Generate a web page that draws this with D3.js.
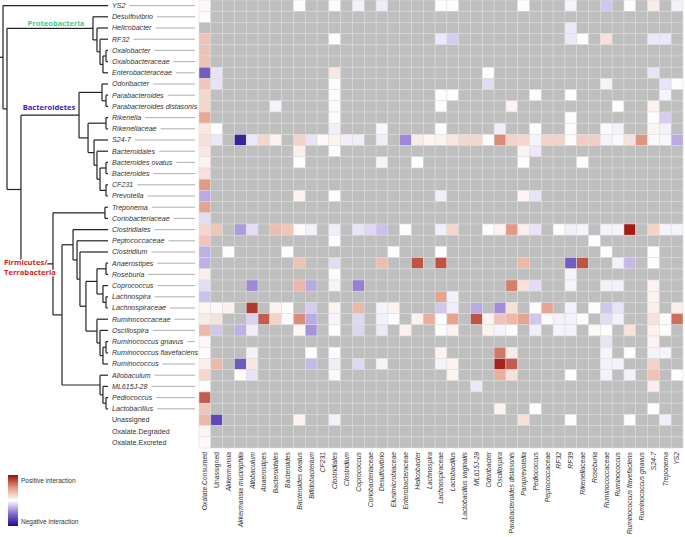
<!DOCTYPE html>
<html><head><meta charset="utf-8">
<script src="https://cdn.jsdelivr.net/npm/d3@7/dist/d3.min.js"></script>
<style>body{margin:0;background:#fff}</style>
</head><body><svg id="c" width="685" height="537"></svg>
<script>
const rows = ["YS2","Desulfovibrio","Helicobacter","RF32","Oxalobacter","Oxalobacteraceae","Enterobacteraceae","Odoribacter","Parabacteroides","Parabacteroides distasonis","Rikenella","Rikenellaceae","S24-7","Bacteroidales","Bacteroides ovatus","Bacteroides","CF231","Prevotella","Treponema","Coriobacteriaceae","Clostridiales","Peptococcaceae","Clostridium","Anaerostipes","Roseburia","Coprococcus","Lachnospira","Lachnospiraceae","Ruminococcaceae","Oscillospira","Ruminococcus gnavus","Ruminococcus flavefaciens","Ruminococcus","Allobaculum","ML615J-28","Pediococcus","Lactobacillus","Unassigned","Oxalate.Degraded","Oxalate.Excreted"];
const cols = ["Oxalate.Consumed","Unassigned","Akkermansia","Akkermansia muciniphila","Allobaculum","Anaerostipes","Bacteroidales","Bacteroides","Bacteroides ovatus","Bifidobacterium","CF231","Clostridiales","Clostridium","Coprococcus","Coriobacteriaceae","Desulfovibrio","Elusimicrobiaceae","Enterobacteraceae","Helicobacter","Lachnospira","Lachnospiraceae","Lactobacillus","Lactobacillus vaginalis","ML615J-28","Odoribacter","Oscillospira","Parabacteroides distasonis","Paraprevotella","Pediococcus","Peptococcaceae","RF32","RF39","Rikenellaceae","Roseburia","Ruminococcaceae","Ruminococcus","Ruminococcus flavefaciens","Ruminococcus gnavus","S24-7","Treponema","YS2"];
const plainRows = ["Unassigned","Oxalate.Degraded","Oxalate.Excreted"];
const plainCols = ["Oxalate.Consumed","Unassigned"];

// per row: [columnIndex, interaction value]; missing = not tested (grey)
const values = [
 [[0,.03],[8,.01],[11,.01],[13,-.05],[15,-.07],[20,.01],[21,.01],[27,.01],[31,-.04],[34,-.2],[36,.01],[38,.1],[40,-.05]],
 [[0,.02]],
 [[31,-.08]],
 [[0,.3],[11,.01],[20,-.08],[21,-.18],[31,-.08],[32,.01],[34,.15],[38,-.08],[39,-.08]],
 [[0,.3]],
 [[0,.3]],
 [[0,-.6],[1,-.1],[11,.12],[24,.01],[38,-.1]],
 [[0,.28],[1,-.1],[11,.02],[24,-.12],[34,-.04],[39,-.1],[40,.01]],
 [[0,.2],[11,.02],[20,.01],[21,.01],[28,.01],[31,.01],[39,-.04]],
 [[0,.2],[6,-.04],[11,.02],[20,.01],[26,.06],[35,.01],[38,.06]],
 [[0,.42],[11,.02],[31,.02],[38,.01],[39,-.18]],
 [[0,.12],[1,0],[11,-.06],[15,-.03],[20,.01],[25,-.06],[28,.01],[31,.01],[34,-.02],[35,-.05],[38,.05],[39,-.05]],
 [[0,.15],[1,-.08],[3,-.88],[4,-.08],[5,.2],[6,.06],[8,.22],[9,-.1],[10,.03],[11,.06],[12,-.06],[13,-.06],[15,-.06],[17,-.42],[18,.1],[19,.05],[20,.06],[21,.12],[22,.2],[23,.2],[24,.02],[25,.55],[26,.22],[27,.2],[28,-.04],[29,.22],[30,.22],[31,.02],[32,.25],[33,.25],[34,-.04],[35,-.02],[36,.15],[37,.52],[38,.03],[39,-.03],[40,-.3]],
 [[0,.12],[8,.08],[11,.01],[27,.06],[28,-.08]],
 [[0,.06],[8,.01],[15,-.04],[18,0],[27,.01],[32,.01]],
 [[0,.15]],
 [[0,.5]],
 [[0,-.3],[8,.06],[11,.01],[20,-.06],[27,.05],[28,-.1]],
 [[0,.45]],
 [[0,-.12]],
 [[0,.2],[1,.28],[3,-.35],[4,-.12],[6,.32],[7,.28],[8,.02],[9,-.05],[11,-.06],[13,-.1],[14,-.14],[15,-.22],[17,.01],[20,-.06],[21,.2],[24,.01],[25,.06],[26,.5],[27,.08],[28,-.1],[30,.01],[31,-.06],[32,-.04],[34,-.04],[35,-.04],[36,.95],[38,.22],[39,-.04],[40,-.04]],
 [[0,.28],[11,.01],[33,.01]],
 [[0,-.28],[2,.01],[7,.01],[16,.01],[20,.01],[34,.01],[38,.01]],
 [[0,-.28],[8,.3],[11,-.12],[15,.32],[18,.75],[20,.75],[27,.35],[31,-.6],[32,.75],[35,-.05],[36,-.25],[38,.01]],
 [[0,.08],[11,.02],[31,-.04]],
 [[0,-.12],[4,-.42],[8,.35],[9,-.3],[11,-.04],[13,-.45],[26,.6],[27,.15],[28,-.12],[31,-.04],[34,-.05],[35,-.05],[38,.06]],
 [[0,-.22],[20,.45],[21,-.05],[38,.06]],
 [[0,.04],[1,.03],[2,.07],[4,.85],[6,.06],[7,.01],[9,-.18],[11,.06],[13,.35],[15,-.04],[16,.06],[20,-.2],[21,-.06],[23,-.3],[25,-.4],[26,.15],[28,.01],[29,.45],[31,-.05],[33,.01],[34,-.2],[35,-.1],[38,.08],[40,.08]],
 [[0,.1],[1,.14],[4,-.16],[5,.72],[6,.22],[7,.02],[8,.55],[9,-.3],[11,-.04],[13,-.14],[15,-.05],[16,.01],[18,.06],[19,.4],[20,.01],[21,.45],[23,.75],[24,.06],[25,.3],[26,.35],[27,.45],[28,-.2],[29,.03],[30,-.05],[31,-.05],[32,.01],[34,-.12],[35,-.05],[38,.15],[39,.02],[40,.65]],
 [[0,.35],[1,-.2],[3,-.28],[4,-.06],[8,.04],[9,-.38],[11,0],[13,-.15],[15,-.08],[17,.07],[20,.01],[21,.06],[24,.06],[25,-.04],[26,.01],[28,-.06],[30,-.04],[31,-.05],[33,.03],[34,.01],[36,.15],[38,.06],[39,.01]],
 [[0,.04],[34,-.1],[38,.06]],
 [[0,.01],[4,-.05],[9,.01],[11,.01],[20,.06],[25,.62],[26,.1],[34,-.04],[36,.01],[38,-.04],[39,-.04]],
 [[0,.08],[1,.35],[3,-.62],[4,.12],[9,-.25],[11,-.06],[13,-.14],[15,-.04],[20,-.05],[21,.06],[25,.92],[26,.72],[34,-.05],[35,-.05],[38,.22]],
 [[0,.2],[3,.01],[4,-.1],[11,.04],[21,.06],[25,.4],[26,.15],[31,.01],[34,-.05],[36,-.05],[38,.3],[40,.01]],
 [[0,.01],[23,-.08],[38,.08]],
 [[0,.72]],
 [[0,.28],[25,.06],[28,.01],[38,.01]],
 [[0,.35],[1,-.7],[8,.06],[11,-.05],[27,.15],[31,.01],[36,.01],[39,-.06]],
 [[0,.05]],
 [[0,.03]]
];

// dendrogram: [depth, child, child]; leaves are row names at depth 1
const tree = [0, "YS2", [0.038,
  [0.857, "Desulfovibrio", [0.895, "Helicobacter", [0.924, "RF32", [0.952, [0.981, "Oxalobacter", "Oxalobacteraceae"], "Enterobacteraceae"]]]],
  [0.171,
    [0.724, [0.943, "Odoribacter", [0.981, "Parabacteroides", "Parabacteroides distasonis"]],
            [0.81, [0.981, "Rikenella", "Rikenellaceae"], [0.867, "S24-7", [0.895, "Bacteroidales", [0.924, [0.981, "Bacteroides ovatus", "Bacteroides"], [0.981, "CF231", "Prevotella"]]]]]],
    [0.476, [0.971, "Treponema", "Coriobacteriaceae"],
      [0.562,
        [0.667, "Clostridiales", [0.705, "Peptococcaceae", [0.733, "Clostridium", [0.79,
            [0.895, [0.981, "Anaerostipes", "Roseburia"], [0.952, "Coprococcus", [0.981, "Lachnospira", "Lachnospiraceae"]]],
            [0.895, "Ruminococcaceae", [0.924, "Oscillospira", [0.952, [0.981, "Ruminococcus gnavus", "Ruminococcus flavefaciens"], "Ruminococcus"]]]]]]],
        [0.924, "Allobaculum", [0.952, "ML615J-28", [0.981, "Pediococcus", "Lactobacillus"]]]]]]]];

const phyla = [
  {name:["Proteobacteria"], color:"#2fd39a"},
  {name:["Bacteroidetes"], color:"#3a1fb4"},
  {name:["Firmicutes/","Terrabacteria"], color:"#d41f26"}
];
const legendLabels = ["Positive interaction","Negative interaction"];
const colorDomain = [-1,-0.5,0,0.5,1];
const colorRange = ["#1e0a8e","#8a72cf","#ffffff","#e29a86","#9c0e06"];

const svg = d3.select("#c");
const font = "'Liberation Sans', Arial, sans-serif";
const x = d3.scaleBand().domain(cols).range([199, 683]);
const y = d3.scaleBand().domain(rows).range([0, 448]);
const color = d3.scaleLinear().domain(colorDomain).range(colorRange).clamp(true);
const tx = d3.scaleLinear().domain([0,1]).range([3,108]);

// heatmap
const grid = [];
rows.forEach((r,i)=>{
  const m = new Map(values[i]);
  cols.forEach((c,j)=>grid.push({r, c, v: m.has(j)?m.get(j):null}));
});
svg.append("g").selectAll("rect").data(grid).join("rect")
  .attr("x", d=>x(d.c)).attr("y", d=>y(d.r))
  .attr("width", x.bandwidth()).attr("height", y.bandwidth())
  .attr("fill", d=>d.v===null?"#bfbfbf":color(d.v))
  .attr("stroke","#dcdcdc").attr("stroke-width",0.5);

// row labels
const rl = svg.append("g");
rows.forEach(r=>{
  const t = rl.append("text").attr("x",112).attr("y",y(r)+y.bandwidth()/2).attr("dy","0.35em")
    .attr("font-family",font).attr("font-size","7.1px").attr("fill","#333")
    .attr("font-style", plainRows.includes(r)?"normal":"italic").text(r);
  if(!plainRows.includes(r)){
    const w = t.node().getComputedTextLength();
    if(112+w+4 < 195) rl.append("line").attr("x1",112+w+4).attr("x2",195)
      .attr("y1",y(r)+y.bandwidth()/2).attr("y2",y(r)+y.bandwidth()/2)
      .attr("stroke","#999").attr("stroke-width",0.8);
  }
});

// column labels
const cl = svg.append("g");
cols.forEach(c=>{
  cl.append("text").attr("transform",`translate(${x(c)+x.bandwidth()/2},452) rotate(-90)`)
    .attr("dy","0.35em").attr("text-anchor","end")
    .attr("font-family",font).attr("font-size","6.8px").attr("fill","#333")
    .attr("font-style", plainCols.includes(c)?"normal":"italic").text(c);
});

// dendrogram
const tg = svg.append("g").attr("stroke","#222").attr("stroke-width",1.2).attr("fill","none");
function draw(node){
  if(typeof node === "string") return {y: y(node)+y.bandwidth()/2, h: 1};
  const h = node[0];
  const kids = node.slice(1).map(draw);
  const ys = kids.map(k=>k.y);
  const y0 = d3.min(ys), y1 = d3.max(ys);
  tg.append("line").attr("x1",tx(h)).attr("x2",tx(h)).attr("y1",y0).attr("y2",y1);
  kids.forEach(k=>tg.append("line").attr("x1",tx(h)).attr("x2",tx(k.h)).attr("y1",k.y).attr("y2",k.y));
  return {y:(y0+y1)/2, h};
}
const root = draw(tree);
tg.append("line").attr("x1",0).attr("x2",tx(0)).attr("y1",root.y).attr("y2",root.y);

// phylum labels
const pf = "'Open Sans', Lato, sans-serif";
const ppos = [[56,26,"middle"],[49,110,"middle"],[4,265,"start"]];
phyla.forEach((p,i)=>{
  const t = svg.append("text").attr("x",ppos[i][0]).attr("y",ppos[i][1]).attr("text-anchor",ppos[i][2])
    .attr("font-family",pf).attr("font-weight","bold").attr("font-size","7.6px").attr("fill",p.color)
    .attr("stroke","#fff").attr("stroke-width",2.5).attr("paint-order","stroke").attr("stroke-linejoin","round");
  p.name.forEach((n,k)=>t.append("tspan").attr("x",ppos[i][0]).attr("dy",k?"1.3em":0).text(n));
});

// legend
const defs = svg.append("defs");
const lg = defs.append("linearGradient").attr("id","lg").attr("x1",0).attr("y1",0).attr("x2",0).attr("y2",1);
colorDomain.slice().reverse().forEach((d,i)=>lg.append("stop").attr("offset",i/(colorDomain.length-1)).attr("stop-color",color(d)));
svg.append("rect").attr("x",8).attr("y",475).attr("width",10).attr("height",51).attr("fill","url(#lg)");
svg.append("text").attr("x",21).attr("y",481).attr("dy","0.35em").attr("font-family",font).attr("font-size","6.5px").attr("fill","#333").text(legendLabels[0]);
svg.append("text").attr("x",21).attr("y",522).attr("dy","0.35em").attr("font-family",font).attr("font-size","6.5px").attr("fill","#333").text(legendLabels[1]);
</script></body></html>
